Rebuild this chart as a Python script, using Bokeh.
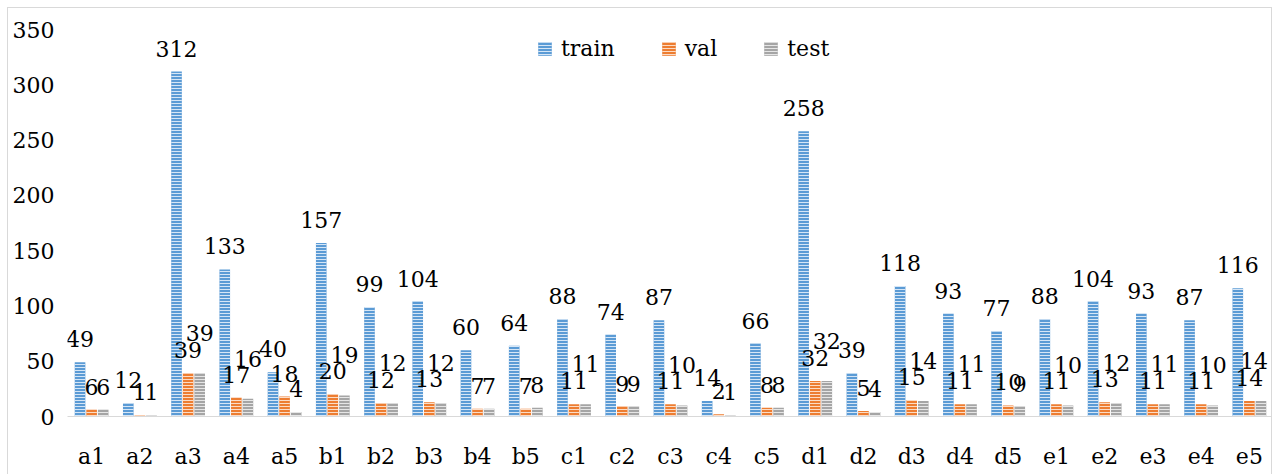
from bokeh.plotting import figure
from bokeh.models import (ColumnDataSource, FactorRange, Range1d, LabelSet, Legend, LegendItem,
                          SingleIntervalTicker)
from bokeh.core.properties import value
from bokeh.transform import dodge
from bokeh.embed import file_html
from bokeh.resources import INLINE

categories = ["a1", "a2", "a3", "a4", "a5", "b1", "b2", "b3", "b4", "b5",
              "c1", "c2", "c3", "c4", "c5", "d1", "d2", "d3", "d4", "d5",
              "e1", "e2", "e3", "e4", "e5"]
train = [49, 12, 312, 133, 40, 157, 99, 104, 60, 64,
         88, 74, 87, 14, 66, 258, 39, 118, 93, 77,
         88, 104, 93, 87, 116]
val = [6, 1, 39, 17, 18, 20, 12, 13, 7, 7,
       11, 9, 11, 2, 8, 32, 5, 15, 11, 10,
       11, 13, 11, 11, 14]
test = [6, 1, 39, 16, 4, 19, 12, 12, 7, 8,
        11, 9, 10, 1, 8, 32, 4, 14, 11, 9,
        10, 12, 11, 10, 14]
series_names = ["train", "val", "test"]
y_ticks_interval = 50

FONT = "DejaVu Serif"
FS = "22px"

# stagger test labels above val labels when both are two-digit (avoid overlap)
test_off = [15 + (17 if (v >= 10 and t >= 10) else 0) for v, t in zip(val, test)]
# nudge the last test label inward so it stays inside the chart border
test_xoff = [0] * (len(categories) - 1) + [-7]

src = ColumnDataSource(dict(cat=categories, train=train, val=val, test=test,
                            train_lbl=[str(v) for v in train],
                            val_lbl=[str(v) for v in val],
                            test_lbl=[str(v) for v in test],
                            test_off=test_off, test_xoff=test_xoff))

p = figure(x_range=FactorRange(factors=categories, range_padding=0),
           y_range=Range1d(0, 350),
           width=1265, height=467, output_backend="svg", toolbar_location=None,
           min_border_left=59, min_border_right=0, min_border_top=21, min_border_bottom=59)
p.styles = {"margin-left": "7px", "margin-top": "7px",
            "border-left": "1px solid #d9d9d9", "border-top": "1px solid #d9d9d9",
            "border-right": "1px solid #d9d9d9"}
p.outline_line_color = None
p.background_fill_color = "white"
p.border_fill_color = "white"
p.xgrid.grid_line_color = None
p.ygrid.grid_line_color = None

styles = [
    ("train", -0.24, "#5b9bd5", "#d6e6f6"),
    ("val", 0.0, "#ed7d31", "#fbdcc6"),
    ("test", 0.24, "#a5a5a5", "#e6e6e6"),
]
renderers = []
for name, off, col, hcol in styles:
    r = p.vbar(x=dodge("cat", off, range=p.x_range), top=name, width=0.22, source=src,
               fill_color=col, line_color=None,
               hatch_pattern="horizontal_line", hatch_color=hcol, hatch_weight=1, hatch_scale=3)
    renderers.append(r)

for name, off in [("train", -0.24), ("val", 0.0)]:
    p.add_layout(LabelSet(x=dodge("cat", off, range=p.x_range), y=name, text=name + "_lbl",
                          source=src, text_align="center", text_baseline="alphabetic",
                          y_offset=15, text_font=value(FONT), text_font_size=value(FS),
                          text_color="black"))
p.add_layout(LabelSet(x=dodge("cat", 0.24, range=p.x_range), y="test", text="test_lbl",
                      source=src, text_align="center", text_baseline="alphabetic",
                      x_offset="test_xoff", y_offset="test_off",
                      text_font=value(FONT), text_font_size=value(FS), text_color="black"))

# axes
p.yaxis.ticker = SingleIntervalTicker(interval=y_ticks_interval)
p.yaxis.axis_line_color = None
p.yaxis.major_tick_line_color = None
p.yaxis.minor_tick_line_color = None
p.yaxis.major_tick_out = 0
p.yaxis.minor_tick_out = 0
p.yaxis.major_label_standoff = 13
p.yaxis.major_label_text_font = FONT
p.yaxis.major_label_text_font_size = FS
p.yaxis.major_label_text_color = "black"

p.xaxis.axis_line_color = "#d9d9d9"
p.xaxis.axis_line_width = 1
p.xaxis.major_tick_line_color = None
p.xaxis.minor_tick_line_color = None
p.xaxis.major_tick_out = 0
p.xaxis.minor_tick_out = 0
p.xaxis.major_label_standoff = 27
p.xaxis.major_label_text_font = FONT
p.xaxis.major_label_text_font_size = FS
p.xaxis.major_label_text_color = "black"

legend = Legend(items=[LegendItem(label=n, renderers=[r]) for n, r in zip(series_names, renderers)],
                orientation="horizontal", location=(469, 355),
                glyph_width=17, glyph_height=17, label_standoff=8, spacing=45,
                padding=0, margin=0, border_line_color=None, background_fill_alpha=0,
                label_text_font=FONT, label_text_font_size=FS, label_text_color="black",
                label_height=24)
p.add_layout(legend)

open("out.html", "w").write(file_html(p, INLINE))
